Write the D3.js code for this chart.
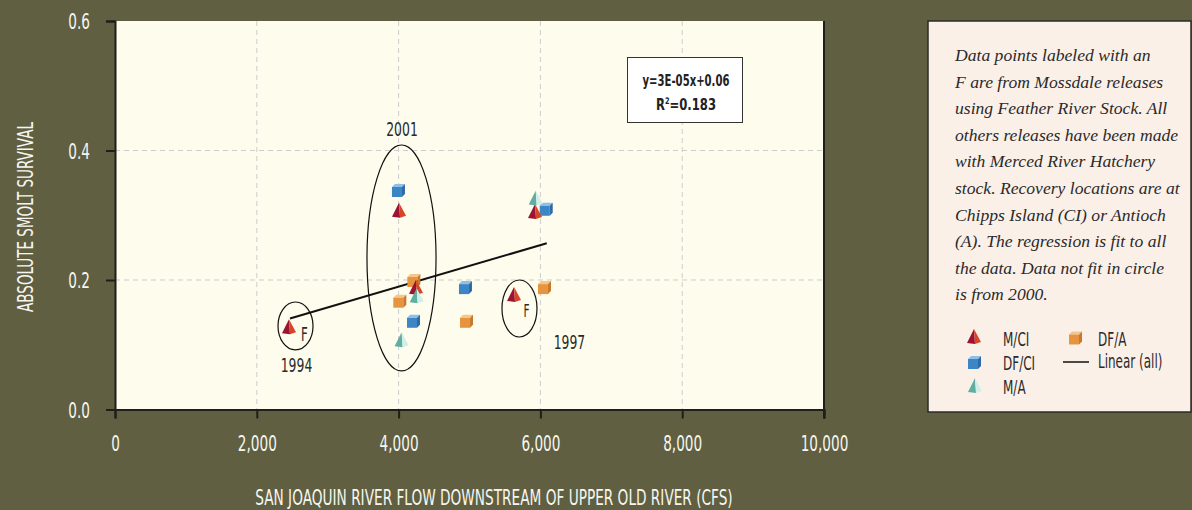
<!DOCTYPE html>
<html>
<head>
<meta charset="utf-8">
<script src="https://cdn.jsdelivr.net/npm/d3@7"></script>
<style>
  html, body { margin: 0; padding: 0; background: #605f41; }
  svg { display: block; }
</style>
</head>
<body>
<div id="chart"></div>
<script>
// series names (legend order)
let seriesNames = ["M/CI", "DF/CI", "M/A", "DF/A"];

// flow (cfs) and absolute smolt survival
let mciFlow   = [2454, 4006, 4245, 5628, 5924];
let mciSurv   = [0.127, 0.307, 0.188, 0.177, 0.305];
let dfciFlow  = [3991, 4203, 4936, 6075];
let dfciSurv  = [0.339, 0.137, 0.189, 0.310];
let maFlow    = [4043, 4255, 5934];
let maSurv    = [0.107, 0.175, 0.326];
let dfaFlow   = [4010, 4208, 4951, 6051];
let dfaSurv   = [0.168, 0.200, 0.137, 0.189];

// linear fit (all data)
let fitSlope = 3.21e-5;
let fitIntercept = 0.0613;
let fitFrom = 2468;
let fitTo = 6090;

let xTicks = [0, 2000, 4000, 6000, 8000, 10000];
let yTicks = [0.0, 0.2, 0.4, 0.6];

// circled groups: centre and radii in data units
let circleYears = ["1994", "2001", "1997"];
let circleCx = [2546, 4041, 5705];
let circleCy = [0.129, 0.234, 0.156];
let circleRx = [247, 487, 247];
let circleRy = [0.037, 0.1745, 0.044];

let noteText = [
  "Data points labeled with an",
  "F are from Mossdale releases",
  "using Feather River Stock. All",
  "others releases have been made",
  "with Merced River Hatchery",
  "stock. Recovery locations are at",
  "Chipps Island (CI) or Antioch",
  "(A). The regression is fit to all",
  "the data. Data not fit in circle",
  "is from 2000."
];

let width = 1192;
let height = 510;
let margin = ({top: 21, right: 368, bottom: 100.5, left: 115});
let sans = "'DejaVu Sans', sans-serif";

// squeeze text horizontally about its anchor so a plain sans looks condensed
function squeeze(sel, k) {
  sel.each(function() {
    const t = d3.select(this);
    const ax = +t.attr("x") || 0;
    t.attr("transform", `translate(${ax},0) scale(${k},1) translate(${-ax},0)`);
  });
}
// same, but to a target width in pixels
function fitWidth(sel, w) {
  squeeze(sel, w / sel.node().getComputedTextLength());
}

let x = d3.scaleLinear().domain([0, 10000]).range([margin.left, width - margin.right]);
let y = d3.scaleLinear().domain([0, 0.6]).range([height - margin.bottom, margin.top]);

const svg = d3.select("#chart").append("svg")
    .attr("width", width)
    .attr("height", height);

svg.append("rect").attr("width", width).attr("height", height).attr("fill", "#605f41");

// plot background
svg.append("rect")
    .attr("x", x(0)).attr("y", y(0.6))
    .attr("width", x(10000) - x(0)).attr("height", y(0) - y(0.6))
    .attr("fill", "#fefcec");

// grid
svg.append("g")
    .attr("stroke", "#cdcdcd").attr("stroke-dasharray", "5,4").attr("stroke-width", 1)
  .selectAll("line").data(xTicks.slice(1, -1)).join("line")
    .attr("x1", d => x(d)).attr("x2", d => x(d))
    .attr("y1", y(0.6)).attr("y2", y(0));
svg.append("g")
    .attr("stroke", "#cdcdcd").attr("stroke-dasharray", "5,4").attr("stroke-width", 1)
  .selectAll("line").data(yTicks.slice(1, -1)).join("line")
    .attr("x1", x(0)).attr("x2", x(10000))
    .attr("y1", d => y(d)).attr("y2", d => y(d));

// axes
const xAxis = svg.append("g")
    .attr("transform", `translate(0,${y(0)})`)
    .call(d3.axisBottom(x).tickValues(xTicks).tickFormat(d3.format(",")).tickSize(9));
const yAxis = svg.append("g")
    .attr("transform", `translate(${x(0)},0)`)
    .call(d3.axisLeft(y).tickValues(yTicks).tickFormat(d3.format(".1f")).tickSize(9));

[xAxis, yAxis].forEach(a => {
  a.select(".domain").attr("stroke", "#1e1e1a").attr("stroke-width", 2);
  a.selectAll(".tick line").attr("stroke", "#1e1e1a").attr("stroke-width", 2);
  a.selectAll("text").attr("fill", "#f6f6f0").style("font-family", sans).style("font-size", "22px");
});
xAxis.selectAll("text").attr("dy", null).attr("x", 0).attr("y", 41.5);
yAxis.selectAll("text").attr("dy", null).attr("x", -25).attr("y", 7.5);
squeeze(xAxis.selectAll("text"), 0.62);
squeeze(yAxis.selectAll("text"), 0.62);

// right edge of plot
svg.append("line")
    .attr("x1", x(10000)).attr("x2", x(10000))
    .attr("y1", y(0.6)).attr("y2", y(0) + 9)
    .attr("stroke", "#1e1e1a").attr("stroke-width", 2);

// axis titles
const xTitle = svg.append("text")
    .attr("x", 494).attr("y", 505)
    .attr("text-anchor", "middle")
    .attr("fill", "#f6f6f0")
    .style("font-family", sans).style("font-size", "22px")
    .text("SAN JOAQUIN RIVER FLOW DOWNSTREAM OF UPPER OLD RIVER (CFS)");
fitWidth(xTitle, 478);
const yTitle = svg.append("text")
    .attr("text-anchor", "middle")
    .attr("fill", "#f6f6f0")
    .style("font-family", sans).style("font-size", "21px")
    .text("ABSOLUTE SMOLT SURVIVAL");
yTitle.attr("transform", `translate(33,217) rotate(-90) scale(${190 / yTitle.node().getComputedTextLength()},1)`);

// regression line
svg.append("line")
    .attr("x1", x(fitFrom)).attr("y1", y(fitIntercept + fitSlope * fitFrom))
    .attr("x2", x(fitTo)).attr("y2", y(fitIntercept + fitSlope * fitTo))
    .attr("stroke", "#111").attr("stroke-width", 2);

// circled groups
const circles = svg.append("g");
circleYears.forEach((yr, i) => {
  circles.append("ellipse")
      .attr("cx", x(circleCx[i])).attr("cy", y(circleCy[i]))
      .attr("rx", x(circleRx[i]) - x(0)).attr("ry", y(0) - y(circleRy[i]))
      .attr("fill", "none").attr("stroke", "#111").attr("stroke-width", 1.2);
});

// marker shapes
function pyramid(g, dark, light) {
  g.append("path").attr("d", "M0,-8 L-7,6 L1,7 Z").attr("fill", dark);
  g.append("path").attr("d", "M0,-8 L1,7 L7,5 Z").attr("fill", light);
}
function cube(g, front, top, side) {
  g.append("path").attr("d", "M-6,-3 L-3,-6 L7,-6 L4,-3 Z").attr("fill", top);
  g.append("path").attr("d", "M-6,-3 L4,-3 L4,7 L-6,7 Z").attr("fill", front);
  g.append("path").attr("d", "M4,-3 L7,-6 L7,4 L4,7 Z").attr("fill", side);
}
let markerDraw = {
  "M/CI": g => pyramid(g, "#9a1330", "#d8462a"),
  "DF/CI": g => cube(g, "#3d86c6", "#8cc0ea", "#2c6aa8"),
  "M/A": g => pyramid(g, "#5fae9f", "#d3eee8"),
  "DF/A": g => cube(g, "#e6943f", "#f6c58a", "#c77a2c")
};

let seriesFlow = [mciFlow, dfciFlow, maFlow, dfaFlow];
let seriesSurv = [mciSurv, dfciSurv, maSurv, dfaSurv];

const marks = svg.append("g");
// orange first, then blue, red, teal
[3, 1, 0, 2].forEach(s => {
  seriesFlow[s].forEach((f, i) => {
    const g = marks.append("g").attr("transform", `translate(${x(f)},${y(seriesSurv[s][i])})`);
    markerDraw[seriesNames[s]](g);
  });
});

// annotation labels (offsets from ellipse centres)
const annot = svg.append("g").attr("fill", "#2a2a2a").style("font-family", sans).attr("text-anchor", "middle");
const ex = i => x(circleCx[i]);
const ey = i => y(circleCy[i]);
annot.append("text").attr("x", ex(1) + 0.5).attr("y", ey(1) - 122).style("font-size", "20px").text(circleYears[1]);
annot.append("text").attr("x", ex(0) + 1).attr("y", ey(0) + 46).style("font-size", "20px").text(circleYears[0]);
annot.append("text").attr("x", ex(2) + 50).attr("y", ey(2) + 40.5).style("font-size", "20px").text(circleYears[2]);
annot.append("text").attr("x", ex(0) + 9).attr("y", ey(0) + 15).style("font-size", "19px").text("F");
annot.append("text").attr("x", ex(2) + 7).attr("y", ey(2) + 8.5).style("font-size", "17px").text("F");
squeeze(annot.selectAll("text"), 0.62);

// equation box
svg.append("rect")
    .attr("x", 627.5).attr("y", 57.5).attr("width", 115).attr("height", 65)
    .attr("fill", "#fff").attr("stroke", "#333").attr("stroke-width", 1);
const eq = svg.append("text").attr("text-anchor", "middle").attr("fill", "#222")
    .attr("x", 686).attr("y", 86.5)
    .style("font-family", sans).style("font-size", "16px").style("font-weight", "bold")
    .text("y=3E-05x+0.06");
fitWidth(eq, 87);
const r2 = svg.append("text").attr("text-anchor", "middle").attr("fill", "#222")
    .attr("x", 686).attr("y", 110)
    .style("font-family", sans).style("font-size", "16px").style("font-weight", "bold");
r2.append("tspan").text("R");
r2.append("tspan").attr("dy", -6).style("font-size", "9px").text("2");
r2.append("tspan").attr("dy", 6).text("=0.183");
fitWidth(r2, 60);

// side panel
svg.append("rect")
    .attr("x", 928).attr("y", 21).attr("width", 263).attr("height", 391)
    .attr("fill", "#fbf0e8").attr("stroke", "#2b2b26").attr("stroke-width", 1.5);

svg.append("g")
    .attr("fill", "#2a2a2a")
    .style("font-family", "'Liberation Serif', 'DejaVu Serif', serif")
    .style("font-style", "italic").style("font-size", "17.6px")
  .selectAll("text").data(noteText).join("text")
    .attr("x", 955)
    .attr("y", (d, i) => 61 + i * 26.6)
    .text(d => d);

// legend
let legendX = [974, 974, 975, 1075];
let legendY = [337, 362, 386, 337.5];
let legendTextY = [346, 370, 394, 346];
let legendTextX = [1003, 1003, 1003, 1098];
const legend = svg.append("g").attr("fill", "#2a2a2a");
seriesNames.forEach((name, i) => {
  const g = legend.append("g").attr("transform", `translate(${legendX[i]},${legendY[i]})`);
  markerDraw[name](g);
});
const legendLabels = legend.append("g").style("font-family", sans).style("font-size", "20px");
seriesNames.forEach((name, i) => {
  legendLabels.append("text").attr("x", legendTextX[i]).attr("y", legendTextY[i]).text(name);
});
legendLabels.append("text").attr("x", 1098).attr("y", 368).text("Linear (all)");
squeeze(legendLabels.selectAll("text"), 0.6);
legend.append("line").attr("x1", 1063).attr("x2", 1089).attr("y1", 362).attr("y2", 362)
    .attr("stroke", "#111").attr("stroke-width", 1.5);
</script>
</body>
</html>
